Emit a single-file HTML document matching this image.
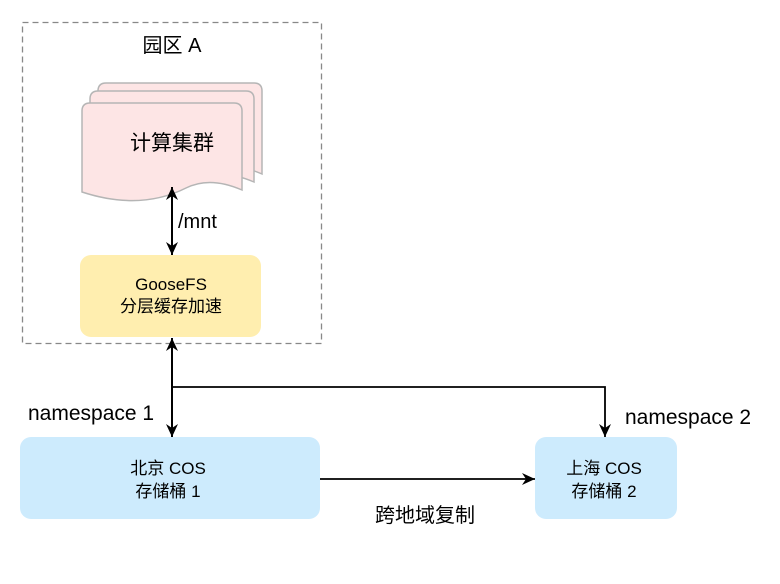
<!DOCTYPE html><html><head><meta charset="utf-8"><style>body{margin:0;background:#fff}</style></head><body>
<svg width="780" height="579" xmlns="http://www.w3.org/2000/svg" font-family="Liberation Sans, Noto Sans CJK SC, sans-serif">
<defs><marker id="a" markerWidth="14" markerHeight="14" refX="13" refY="7" orient="auto-start-reverse" markerUnits="userSpaceOnUse"><path d="M0,1 L13,7 L0,13 L4,7 Z" fill="#000"/></marker></defs>
<rect x="22.5" y="22.5" width="299" height="321" fill="none" stroke="#888" stroke-width="1.3" stroke-dasharray="6,4"/>
<text x="172" y="52" font-size="20" text-anchor="middle">园区 A</text>
<g fill="#fde5e5" stroke="#b5b5b5" stroke-width="1.5">
<path d="M98,91 Q98,83 106,83 L254,83 Q262,83 262,91 L262,174 Q230,160 206,172 Q160,195 98,176 Z"/>
<path d="M90,99 Q90,91 98,91 L246,91 Q254,91 254,99 L254,182 Q222,168 198,180 Q152,203 90,184 Z"/>
<path d="M82,111 Q82,103 90,103 L234,103 Q242,103 242,111 L242,190 Q210,176 186,188 Q140,211 82,192 Z"/>
</g>
<text x="172" y="150" font-size="21" text-anchor="middle">计算集群</text>
<line x1="172" y1="187" x2="172" y2="255" stroke="#000" stroke-width="2" marker-start="url(#a)" marker-end="url(#a)"/>
<text x="178" y="228" font-size="20">/mnt</text>
<rect x="80" y="255" width="181" height="82" rx="11" fill="#ffeeaf"/>
<text x="171" y="290" font-size="17" text-anchor="middle">GooseFS</text>
<text x="171" y="312" font-size="17" text-anchor="middle">分层缓存加速</text>
<line x1="172" y1="338" x2="172" y2="437" stroke="#000" stroke-width="2" marker-start="url(#a)" marker-end="url(#a)"/>
<polyline points="172,387 605,387 605,437" fill="none" stroke="#000" stroke-width="1.8" marker-end="url(#a)"/>
<text x="28" y="420" font-size="21">namespace 1</text>
<text x="625" y="424" font-size="21">namespace 2</text>
<rect x="20" y="437" width="300" height="82" rx="11" fill="#cdebfd"/>
<text x="168" y="474" font-size="17" text-anchor="middle">北京 COS</text>
<text x="168" y="497" font-size="17" text-anchor="middle">存储桶 1</text>
<rect x="535" y="437" width="142" height="82" rx="11" fill="#cdebfd"/>
<text x="604" y="474" font-size="17" text-anchor="middle">上海 COS</text>
<text x="604" y="497" font-size="17" text-anchor="middle">存储桶 2</text>
<line x1="320" y1="479" x2="535" y2="479" stroke="#000" stroke-width="1.8" marker-end="url(#a)"/>
<text x="425" y="522" font-size="20" text-anchor="middle">跨地域复制</text>
</svg></body></html>
